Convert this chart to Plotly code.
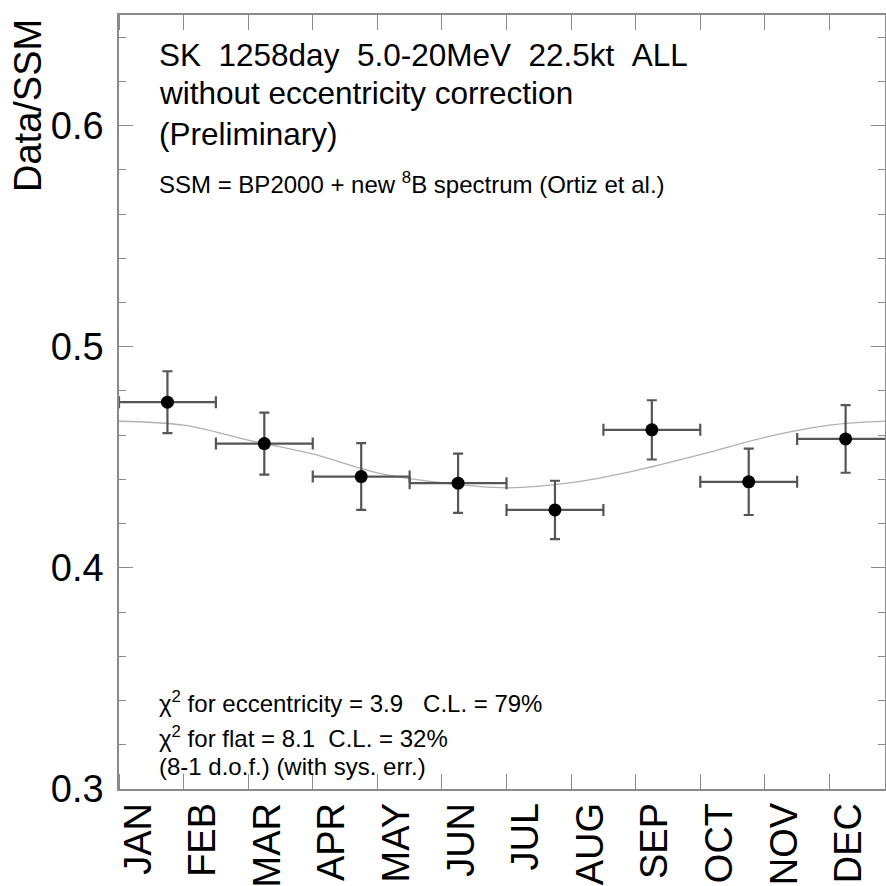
import plotly.graph_objects as go

# ---- data ----
months = ["JAN", "FEB", "MAR", "APR", "MAY", "JUN", "JUL", "AUG", "SEP", "OCT", "NOV", "DEC"]
bin_center = [0.75, 2.25, 3.75, 5.25, 6.75, 8.25, 9.75, 11.25]   # in months
bin_half = [0.75, 0.75, 0.75, 0.75, 0.75, 0.75, 0.75, 0.75]
ratio = [0.4749, 0.4562, 0.4413, 0.4383, 0.4262, 0.4624, 0.4389, 0.4583]
ratio_err = [0.0140, 0.0140, 0.0151, 0.0134, 0.0132, 0.0134, 0.0150, 0.0153]

curve_month = [0, 1, 2, 3, 4, 5, 6, 7, 8, 9, 10, 11, 12]
curve_value = [0.4663, 0.4645, 0.4578, 0.4515, 0.4430, 0.4385, 0.4362, 0.4385, 0.4440, 0.4512, 0.4590, 0.4645, 0.4665]

header_lines = ["SK\u00a0\u00a01258day\u00a0\u00a05.0-20MeV\u00a0\u00a022.5kt\u00a0\u00a0ALL",
                "without eccentricity correction",
                "(Preliminary)"]
ssm_line = "SSM = BP2000 + new <sup>8</sup>B spectrum (Ortiz et al.)"
chi_lines = ["\u03c7<sup>2</sup> for eccentricity = 3.9\u00a0\u00a0\u00a0C.L. = 79%",
             "\u03c7<sup>2</sup> for flat = 8.1\u00a0\u00a0C.L. = 32%",
             "(8-1 d.o.f.) (with sys. err.)"]

# ---- layout geometry (pixels) ----
W, H = 886, 886
L, R, T, B = 119, 1, 15, 97
pw, ph = W - L - R, H - T - B

def px(x):
    return (x - L) / pw

def py(y):
    return (H - B - y) / ph

FONT = "Liberation Sans, Arial, Helvetica, sans-serif"
AXC = "#8a8a8a"

fig = go.Figure()
fig.add_trace(go.Scatter(
    x=curve_month, y=curve_value, mode="lines", line=dict(color="#b0b0b0", width=1.3, shape="spline"),
    hoverinfo="skip", showlegend=False))
fig.add_trace(go.Scatter(
    x=bin_center, y=ratio, mode="markers",
    marker=dict(color="black", size=13, symbol="circle"),
    error_x=dict(type="data", array=bin_half, color="#555555", thickness=2.2, width=6),
    error_y=dict(type="data", array=ratio_err, color="#555555", thickness=2.2, width=5),
    showlegend=False))

annotations = []
for txt, yc in zip(header_lines, [55, 93, 134]):
    annotations.append(dict(text=txt, x=px(157), y=py(yc), xref="paper", yref="paper",
                            xanchor="left", yanchor="middle", showarrow=False,
                            font=dict(family=FONT, size=31.5, color="black")))
annotations.append(dict(text=ssm_line, x=px(157), y=py(183), xref="paper", yref="paper",
                        xanchor="left", yanchor="middle", showarrow=False,
                        font=dict(family=FONT, size=24, color="black")))
for txt, yc in zip(chi_lines, [702, 737, 766]):
    annotations.append(dict(text=txt, x=px(157), y=py(yc), xref="paper", yref="paper",
                            xanchor="left", yanchor="middle", showarrow=False,
                            font=dict(family=FONT, size=24, color="black")))
annotations.append(dict(text="Data/SSM", x=px(28), y=py(106), xref="paper", yref="paper",
                        xanchor="center", yanchor="middle", textangle=-90, showarrow=False,
                        font=dict(family=FONT, size=38, color="black")))

fig.update_layout(
    width=W, height=H, margin=dict(l=L, r=R, t=T, b=B, autoexpand=False),
    paper_bgcolor="white", plot_bgcolor="white",
    annotations=annotations,
    xaxis=dict(range=[0, 11.86], automargin=False,
               tickmode="array", tickvals=[i + 0.3 for i in range(12)], ticktext=months,
               tickangle=-90, ticks="", showgrid=False, zeroline=False, ticklabelstandoff=-3,
               showline=True, linecolor=AXC, linewidth=1.5, mirror="ticks",
               tickfont=dict(family=FONT, size=38, color="black"),
               minor=dict(tickmode="array", tickvals=list(range(13)), ticks="inside",
                          ticklen=15, tickcolor=AXC, tickwidth=1.2, showgrid=False)),
    yaxis=dict(range=[0.3, 0.65], automargin=False,
               tickmode="linear", tick0=0.3, dtick=0.1, tickformat=".1f",
               ticks="inside", ticklen=14, tickcolor=AXC, tickwidth=1.2,
               showgrid=False, zeroline=False, ticklabelstandoff=6,
               showline=True, linecolor=AXC, linewidth=1.5, mirror="ticks",
               tickfont=dict(family=FONT, size=38, color="black"),
               minor=dict(dtick=0.02, tick0=0.3, ticks="inside", ticklen=7,
                          tickcolor=AXC, tickwidth=1.2, showgrid=False)),
)

fig.write_html("out.html", config={"displayModeBar": False},
               post_script="document.body.style.margin='0';document.body.style.overflow='hidden';")
